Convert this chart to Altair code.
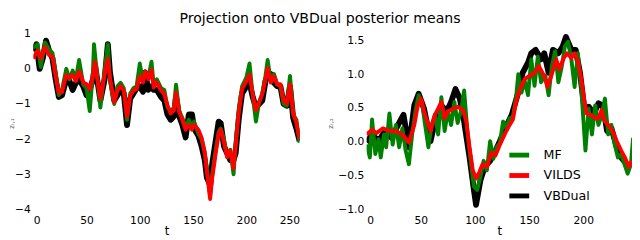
import altair as alt
import pandas as pd

# ---------------- Left panel (z_{t,1}) ----------------
t_mf_1 = [0, 4, 7, 11, 15, 18, 21, 24, 27, 31, 34, 37, 40, 43, 47, 50, 53, 56, 57, 60, 63, 67, 70, 72, 76, 79, 82, 85, 88, 91, 94, 97, 100, 103, 105, 108, 111, 113, 116, 120, 123, 126, 129, 132, 134, 137, 140, 143, 146, 149, 151, 155, 158, 161, 163, 166, 168, 171, 174, 176, 179, 182, 185, 188, 190, 193, 196, 200, 203, 206, 209, 212, 215, 218, 220, 223, 226, 229, 232, 235, 238, 241, 244, 247, 250]
v_mf_1 = [0.6, 0.7, 0.05, 0.75, 0.55, 0.45, -0.1, -0.75, -0.6, 0.0, -0.3, -0.05, -0.3, 0.25, -0.45, -0.55, -1.2, -0.1, 0.7, -0.2, -1.1, -0.05, 0.7, -0.35, -1.0, -0.5, -0.4, -0.55, -1.45, -0.7, -0.55, -0.5, 0.15, -0.35, -0.1, -0.25, 0.2, -0.45, -0.3, -0.55, -0.6, -1.1, -1.2, -1.1, -0.45, -1.2, -1.4, -1.65, -1.45, -1.65, -1.5, -1.85, -2.0, -2.4, -2.85, -3.6, -3.0, -2.35, -1.8, -1.7, -2.0, -2.5, -2.3, -3.0, -2.1, -1.1, -0.5, -0.25, 0.15, -0.75, -1.5, -0.95, -0.7, -0.2, 0.25, -0.35, -0.15, -0.45, -0.5, -1.0, -1.05, -0.2, -1.3, -1.45, -2.1]

t_vilds_1 = [0, 4, 7, 11, 15, 18, 21, 24, 27, 31, 34, 37, 40, 43, 47, 50, 53, 56, 58, 60, 63, 67, 70, 72, 76, 79, 82, 85, 88, 91, 94, 97, 100, 103, 105, 108, 111, 113, 116, 120, 123, 126, 129, 132, 134, 137, 140, 143, 146, 149, 151, 155, 158, 161, 163, 166, 168, 171, 174, 176, 179, 182, 185, 188, 190, 193, 196, 200, 203, 206, 209, 212, 215, 218, 220, 223, 226, 229, 232, 235, 238, 241, 244, 247, 250]
v_vilds_1 = [0.29, 0.52, 0.29, 0.62, 0.39, 0.34, -0.21, -0.67, -0.67, -0.17, -0.26, -0.17, -0.35, -0.07, -0.39, -0.44, -0.58, -0.21, 0.2, -0.26, -0.85, -0.17, 0.29, -0.26, -0.95, -0.62, -0.49, -0.62, -1.36, -0.76, -0.62, -0.58, -0.21, -0.39, -0.07, -0.3, -0.03, -0.53, -0.39, -0.62, -0.72, -1.04, -1.27, -1.18, -0.67, -1.22, -1.45, -1.73, -1.59, -1.73, -1.59, -1.73, -1.96, -2.37, -2.92, -3.7, -3.1, -2.46, -1.86, -1.73, -2.09, -2.51, -2.32, -2.83, -2.19, -1.22, -0.58, -0.35, -0.17, -0.72, -1.18, -0.95, -0.72, -0.3, 0.02, -0.39, -0.21, -0.44, -0.44, -0.9, -0.99, -0.44, -1.27, -1.54, -2.0]

t_vbd_1 = [0, 3, 6, 9, 12, 15, 18, 21, 24, 27, 31, 34, 37, 40, 43, 47, 50, 53, 56, 58, 60, 63, 67, 70, 72, 76, 79, 82, 85, 88, 91, 94, 97, 100, 103, 105, 108, 111, 113, 116, 120, 123, 126, 129, 132, 134, 137, 140, 143, 146, 149, 151, 155, 158, 161, 163, 166, 168, 171, 174, 176, 179, 182, 185, 188, 190, 193, 196, 200, 203, 206, 209, 212, 215, 218, 220, 223, 226, 229, 232, 235, 238, 241, 244, 247, 250]
v_vbd_1 = [0.5, 0.7, 0.0, 0.3, 0.8, 0.5, 0.3, -0.3, -0.8, -0.75, -0.3, -0.35, -0.6, -0.4, -0.3, -0.5, -0.75, -0.6, -0.3, 0.1, -0.3, -0.9, -0.3, 0.7, -0.1, -0.9, -0.75, -0.6, -0.7, -1.6, -0.85, -0.7, -0.55, -0.5, -0.65, -0.1, -0.6, -0.5, -0.6, -0.6, -0.8, -0.9, -1.3, -1.45, -1.35, -0.8, -1.35, -1.6, -1.95, -1.3, -1.3, -1.7, -1.9, -2.2, -2.6, -3.1, -3.3, -2.7, -2.1, -1.5, -1.55, -2.2, -2.4, -2.6, -2.6, -2.4, -1.4, -0.7, -0.5, -0.4, -0.8, -1.1, -1.0, -0.9, -0.35, -0.2, -0.15, -0.4, -0.5, -0.5, -1.0, -1.05, -0.5, -1.4, -1.7, -2.05]

# ---------------- Right panel (z_{t,2}) ----------------
t_mf_2 = [0, 3, 5, 8, 11, 13, 16, 18, 21, 24, 27, 30, 33, 36, 39, 42, 45, 48, 51, 54, 57, 60, 63, 66, 69, 72, 75, 78, 81, 84, 87, 90, 93, 96, 99, 102, 105, 108, 111, 114, 117, 120, 123, 126, 129, 132, 135, 138, 140, 143, 146, 149, 152, 155, 158, 161, 165, 168, 171, 174, 177, 180, 183, 186, 189, 192, 195, 198, 202, 205, 208, 211, 214, 217, 220, 223, 226, 229, 232, 235, 238, 241, 244, 246]
v_mf_2 = [-0.04, -0.23, 0.33, -0.18, 0.04, -0.23, 0.11, -0.08, 0.42, -0.04, 0.25, -0.08, 0.2, -0.13, -0.33, 0.11, 0.45, 0.69, 0.59, 0.25, -0.08, 0.25, 0.4, 0.11, 0.66, 0.16, 0.45, 0.25, 0.59, 0.28, 0.45, 0.76, 0.16, -0.28, -0.66, -0.71, -0.52, -0.28, -0.42, 0.01, -0.25, -0.08, -0.01, 0.3, 0.2, 0.35, 0.37, 0.66, 1.0, 0.73, 0.9, 0.69, 1.22, 0.83, 1.26, 0.88, 0.98, 0.69, 1.12, 1.34, 0.88, 1.1, 1.41, 1.48, 1.22, 0.81, 1.31, 0.83, -0.13, 0.49, 0.11, 0.54, 0.25, 0.4, 0.64, 0.11, 0.25, -0.04, -0.23, -0.18, -0.33, -0.47, -0.33, 0.06]

t_vilds_2 = [0, 5, 9, 15, 21, 27, 33, 39, 44, 47, 50, 54, 59, 63, 66, 69, 72, 75, 80, 84, 89, 92, 95, 98, 101, 104, 107, 111, 115, 119, 123, 128, 132, 135, 138, 141, 146, 150, 155, 159, 164, 167, 171, 175, 178, 182, 185, 189, 192, 195, 198, 201, 203, 207, 211, 214, 217, 220, 223, 227, 231, 235, 239, 242, 245]
v_vilds_2 = [0.11, 0.18, 0.13, 0.2, 0.16, 0.16, 0.11, -0.01, 0.25, 0.52, 0.64, 0.4, 0.16, 0.4, 0.49, 0.59, 0.35, 0.45, 0.49, 0.52, 0.47, 0.3, -0.08, -0.42, -0.54, -0.45, -0.33, -0.37, -0.16, -0.2, -0.04, 0.13, 0.25, 0.33, 0.59, 0.76, 0.93, 0.97, 1.02, 1.12, 0.97, 0.81, 1.0, 1.22, 1.07, 1.24, 1.31, 1.24, 1.31, 1.19, 0.95, 0.61, 0.42, 0.4, 0.35, 0.35, 0.47, 0.3, 0.25, 0.16, 0.01, -0.13, -0.25, -0.37, -0.28]

t_vbd_2 = [0, 5, 11, 17, 23, 29, 34, 39, 44, 48, 53, 59, 63, 69, 74, 78, 82, 86, 90, 95, 99, 101, 105, 109, 114, 119, 123, 128, 134, 140, 144, 149, 152, 156, 161, 164, 168, 172, 177, 181, 184, 189, 193, 197, 201, 205, 210, 214, 218, 222, 226, 231, 235, 240, 244]
v_vbd_2 = [-0.01, 0.11, 0.01, 0.16, 0.06, 0.25, 0.4, -0.08, 0.54, 0.71, 0.49, 0.01, 0.3, 0.54, 0.45, 0.59, 0.78, 0.64, 0.3, -0.23, -0.71, -0.93, -0.57, -0.37, -0.28, -0.13, 0.01, 0.2, 0.4, 0.73, 1.02, 1.17, 1.31, 1.36, 1.22, 1.31, 1.02, 1.36, 1.31, 1.41, 1.55, 1.36, 1.36, 1.02, 0.49, 0.52, 0.42, 0.57, 0.54, 0.16, 0.2, -0.08, -0.23, -0.33, -0.37]

series_names = ["MF", "VILDS", "VBDual"]
series_colors = ["#008000", "#ff0000", "#000000"]


def frame(t, v, name):
    return pd.DataFrame({"t": t, "v": v, "method": name})


def panel(mf, vilds, vbd, xdom, ydom, yticks, yfmt, ytitle, title_x, xticks, show_legend):
    x = alt.X("t:Q", scale=alt.Scale(domain=xdom, nice=False, zero=False),
              axis=alt.Axis(values=xticks, title="t", format="d"))
    y = alt.Y("v:Q", scale=alt.Scale(domain=ydom, nice=False, zero=False),
              axis=alt.Axis(values=yticks, format=yfmt, title=ytitle,
                            titleFontSize=7, titleColor="#555555",
                            titleX=title_x, titleY=92, titleAngle=270,
                            titleAlign="center", titleBaseline="middle"))
    if show_legend:
        legend = alt.Legend(title=None, orient="none", legendX=146, legendY=114,
                            symbolType="M-1.2,0H1.2", symbolSize=289, symbolStrokeWidth=5,
                            labelFontSize=13, labelFont="DejaVu Sans", rowPadding=0,
                            labelOffset=14)
    else:
        legend = None
    color = alt.Color("method:N", scale=alt.Scale(domain=series_names, range=series_colors),
                      legend=legend)
    layers = []
    for df, w in ((vbd, 6), (mf, 4), (vilds, 4)):
        layers.append(
            alt.Chart(df).mark_line(strokeWidth=w, clip=True, strokeJoin="round")
            .encode(x=x, y=y, color=color, order="t:Q")
        )
    return alt.layer(*layers)


left = panel(frame(t_mf_1, v_mf_1, "MF"), frame(t_vilds_1, v_vilds_1, "VILDS"),
             frame(t_vbd_1, v_vbd_1, "VBDual"),
             [0, 250], [-4, 1], [-4, -3, -2, -1, 0, 1], "d", "zₜ,₁", -22,
             [0, 50, 100, 150, 200, 250], False).properties(width=274, height=181)

right = panel(frame(t_mf_2, v_mf_2, "MF"), frame(t_vilds_2, v_vilds_2, "VILDS"),
              frame(t_vbd_2, v_vbd_2, "VBDual"),
              [0, 245], [-1.0, 1.6], [-1.0, -0.5, 0.0, 0.5, 1.0, 1.5], ".1f", "zₜ,₂", -37,
              [0, 50, 100, 150, 200], True).properties(width=273, height=181)

chart = (
    alt.hconcat(left, right, spacing=28)
    .resolve_scale(color="independent")
    .properties(
        title=alt.TitleParams("Projection onto VBDual posterior means", anchor="middle",
                              fontSize=14.5, font="DejaVu Sans", fontWeight="normal",
                              offset=1),
        padding={"left": 0, "top": 0, "right": 0, "bottom": 0},
    )
    .configure_view(strokeWidth=0)
    .configure_axis(domain=False, ticks=False, tickSize=0, grid=False,
                    labelFont="DejaVu Sans", labelFontSize=11, labelColor="#000000",
                    titleFont="DejaVu Sans", titleFontWeight="normal", titleFontSize=12,
                    titleColor="#000000")
    .configure_axisY(labelPadding=3)
    .configure_axisX(labelPadding=5, titlePadding=1)
)

chart.save("out.html", embed_options={"renderer": "svg", "actions": False})
